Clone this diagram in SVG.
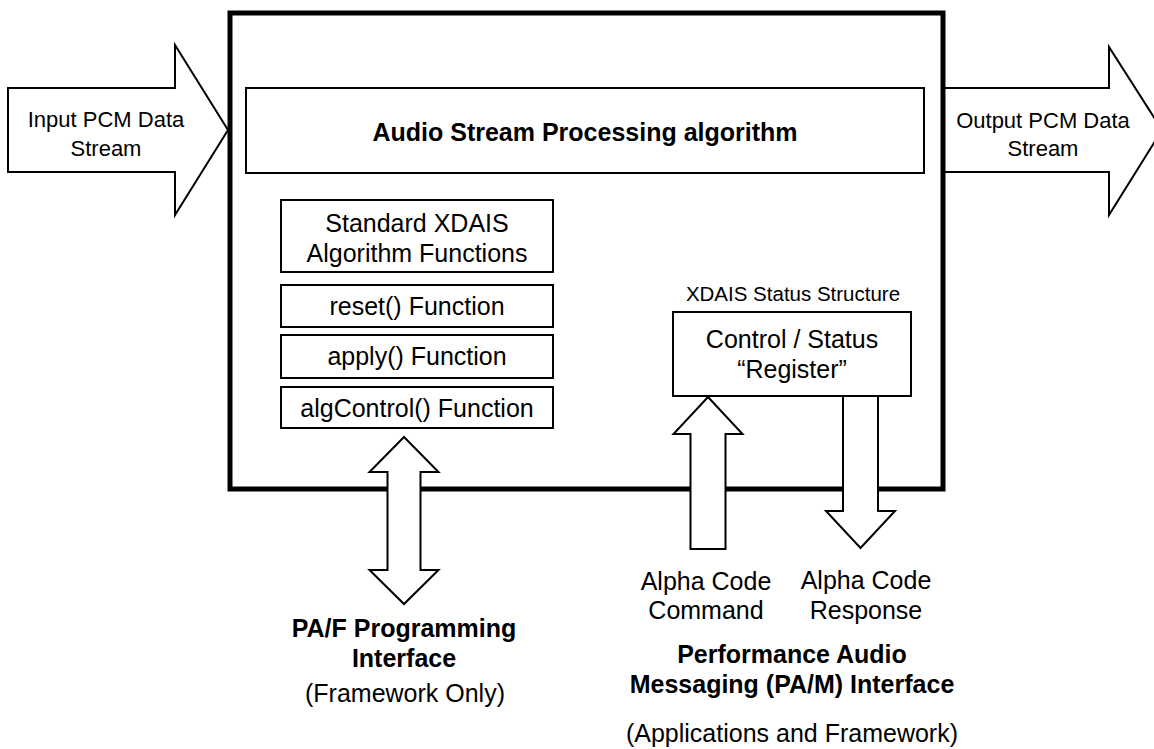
<svg xmlns="http://www.w3.org/2000/svg" width="1154" height="749" viewBox="0 0 1154 749">
<style>
text{font-family:"Liberation Sans",Arial,sans-serif;fill:#000;text-anchor:middle}
.t22{font-size:22px}
.t25{font-size:25px}
.b25{font-size:25px;font-weight:bold}
.t20{font-size:20.5px}
.box{fill:#fff;stroke:#000;stroke-width:2}
.arr{fill:#fff;stroke:#000;stroke-width:2;stroke-linejoin:miter}
</style>
<rect width="1154" height="749" fill="#fff"/>
<g id="output-arrow">
<polygon class="arr" points="943,88 1109,88 1109,47 1162,130 1109,215 1109,172 943,172"/>
<text class="t22" x="1043" y="128">Output PCM Data</text>
<text class="t22" x="1043" y="156">Stream</text>
</g>
<g id="main-box">
<rect x="230" y="13" width="713" height="476" fill="#fff" stroke="#000" stroke-width="5"/>
</g>
<g id="input-arrow">
<polygon class="arr" points="8,88 175,88 175,45 228,130 175,215 175,172 8,172"/>
<text class="t22" x="106" y="127">Input PCM Data</text>
<text class="t22" x="106" y="156">Stream</text>
</g>
<g id="algorithm">
<rect class="box" x="246" y="88" width="678" height="85"/>
<text class="b25" x="585" y="141">Audio Stream Processing algorithm</text>
</g>
<g id="xdais-functions">
<rect class="box" x="281" y="200" width="272" height="72"/>
<text class="t25" x="417" y="232">Standard XDAIS</text>
<text class="t25" x="417" y="262">Algorithm Functions</text>
</g>
<g id="reset">
<rect class="box" x="281" y="285" width="272" height="42"/>
<text class="t25" x="417" y="315">reset() Function</text>
</g>
<g id="apply">
<rect class="box" x="281" y="335" width="272" height="43"/>
<text class="t25" x="417" y="365">apply() Function</text>
</g>
<g id="algcontrol">
<rect class="box" x="281" y="387" width="272" height="41"/>
<text class="t25" x="417" y="417">algControl() Function</text>
</g>
<g id="connectors">
<polygon class="arr" points="404,437 438.5,472 420.5,472 420.5,570 438.5,570 404,604 369.5,570 387.5,570 387.5,472 369.5,472"/>
<polygon class="arr" points="708,397 742.5,434 725.5,434 725.5,549 690.5,549 690.5,434 673.5,434"/>
<polygon class="arr" points="843,396 878,396 878,511 895,511 860.5,548 826,511 843,511"/>
</g>
<g id="control-status">
<text class="t20" x="793" y="301">XDAIS Status Structure</text>
<rect class="box" x="673" y="312" width="238" height="84"/>
<text class="t25" x="792" y="348">Control / Status</text>
<text class="t25" x="792" y="378">“Register”</text>
</g>
<g id="paf-label">
<text class="b25" x="404" y="637">PA/F Programming</text>
<text class="b25" x="404" y="667">Interface</text>
<text class="t25" x="405" y="702">(Framework Only)</text>
</g>
<g id="command-label">
<text class="t25" x="706" y="590">Alpha Code</text>
<text class="t25" x="706" y="619">Command</text>
</g>
<g id="response-label">
<text class="t25" x="866" y="589">Alpha Code</text>
<text class="t25" x="866" y="619">Response</text>
</g>
<g id="pam-label">
<text class="b25" x="792" y="663">Performance Audio</text>
<text class="b25" x="792" y="693">Messaging (PA/M) Interface</text>
<text class="t25" x="792" y="742">(Applications and Framework)</text>
</g>
</svg>
